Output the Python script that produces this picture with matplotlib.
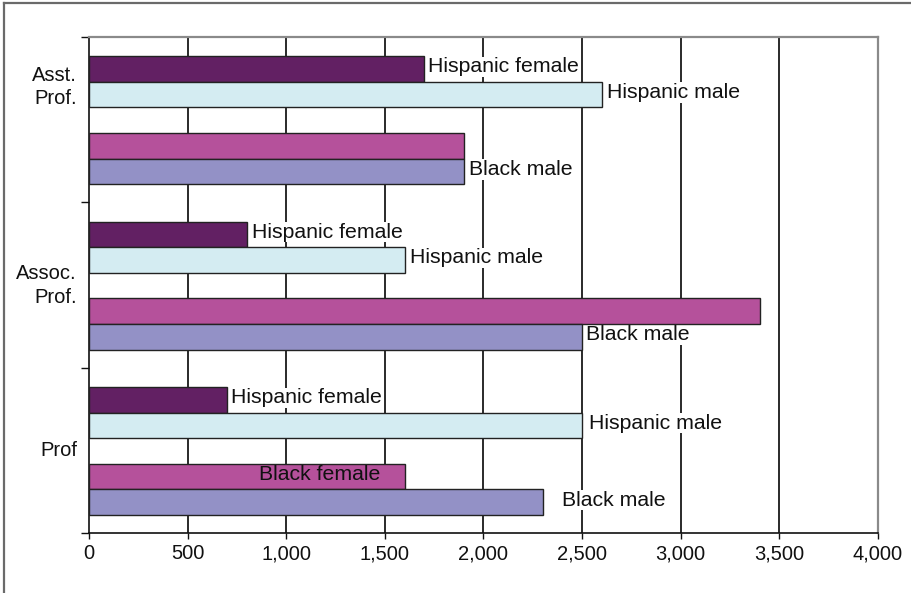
import matplotlib
matplotlib.use("Agg")
import matplotlib.pyplot as plt
from matplotlib.lines import Line2D
import numpy as np

plt.rcParams['font.family'] = ['Liberation Sans', 'DejaVu Sans']

# Ranks, top to bottom
categories = ["Asst.\nProf.", "Assoc.\nProf.", "Prof"]
series = ["Hispanic female", "Hispanic male", "Black female", "Black male"]

# Values per series, one per rank (Asst., Assoc., Prof)
hispanic_female = [1700, 800, 700]
hispanic_male = [2600, 1600, 2500]
black_female = [1900, 3400, 1600]
black_male = [1900, 2500, 2300]

xticks = [0, 500, 1000, 1500, 2000, 2500, 3000, 3500, 4000]
xtick_labels = ["0", "500", "1,000", "1,500", "2,000", "2,500", "3,000", "3,500", "4,000"]

# Which bars carry a text label (rank x series)
show_label = [
    [True, True, False, True],
    [True, True, False, True],
    [True, True, True, True],
]

# ---- styling ----
colors = ["#622063", "#d4ecf2", "#b5519b", "#9391c6"]
edge = "#222222"
group_h = 6.45           # height of one rank block (bar units)
bar_offsets = [1.25, 2.25, 4.25, 5.25]   # bar centres inside a block
# horizontal gap (in value units) between bar end and its label
label_gap = [
    [20, 25, 0, 25],
    [25, 25, 0, 20],
    [20, 35, -125, 100],
]
cat_label_y = [1.95, 9.7, 16.15]

values = [hispanic_female, hispanic_male, black_female, black_male]

fig = plt.figure(figsize=(9.12, 5.93), dpi=100)
ax = fig.add_axes([89 / 912, 1 - 533 / 593, (878 - 89) / 912, (533 - 37) / 593])

for s, vals in enumerate(values):
    ys = [g * group_h + bar_offsets[s] for g in range(len(categories))]
    ax.barh(ys, vals, height=1.0, color=colors[s], edgecolor=edge,
            linewidth=1.0, zorder=3)
    for g, v in enumerate(vals):
        if not show_label[g][s]:
            continue
        y = ys[g] - 0.08
        gap = label_gap[g][s]
        if gap < 0:
            ax.text(v + gap, y, series[s], ha="right", va="center",
                    fontsize=15.3, color="#111111", zorder=4)
        else:
            ax.text(v + gap, y, series[s], ha="left", va="center",
                    fontsize=15.3, color="#111111", zorder=2.5,
                    bbox=dict(facecolor="white", edgecolor="none", pad=0.5))

for g, lab in enumerate(categories):
    ax.text(-12 / 0.19725, cat_label_y[g], lab, ha="right", va="center",
            multialignment="right", fontsize=14.5, color="#111111",
            linespacing=1.3)

ax.set_xlim(0, 4000)
ax.set_ylim(len(categories) * group_h, 0)
ax.set_xticks(xticks)
ax.set_xticklabels(xtick_labels, fontsize=14.5, color="#111111")
ax.set_yticks([g * group_h for g in range(len(categories) + 1)])
ax.set_yticklabels([])
ax.tick_params(axis="x", direction="out", length=4, width=1.0, color="#111111", pad=4)
ax.tick_params(axis="y", direction="out", length=6, width=1.0, color="#111111")

for xv in xticks[1:-1]:
    ax.axvline(xv, color="#2a2a2a", linewidth=1.4, zorder=1)

for side in ("top", "right"):
    ax.spines[side].set_color("#8a8a8a")
    ax.spines[side].set_linewidth(1.6)
for side in ("left", "bottom"):
    ax.spines[side].set_color("#111111")
    ax.spines[side].set_linewidth(1.2)

# frame around the figure (left and top edges)
fig.add_artist(Line2D([4 / 912, 4 / 912], [0, 1 - 3 / 593], transform=fig.transFigure,
                      color="#6a6a6a", linewidth=1.6))
fig.add_artist(Line2D([4 / 912, 1], [1 - 3 / 593, 1 - 3 / 593], transform=fig.transFigure,
                      color="#6a6a6a", linewidth=1.6))

fig.savefig("out.png", dpi=100)
